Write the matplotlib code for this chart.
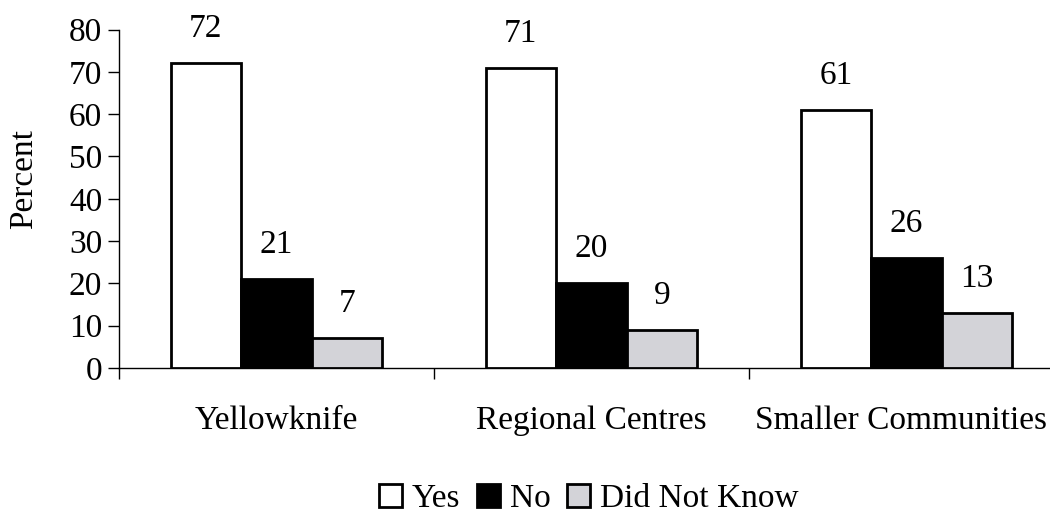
import numpy as np
import matplotlib.pyplot as plt
import matplotlib.transforms as mtransforms
from matplotlib.patches import Patch

plt.rcParams['font.family'] = ['Liberation Serif', 'DejaVu Serif']

regions = ['Yellowknife', 'Regional Centres', 'Smaller Communities']
answers = ['Yes', 'No', 'Did Not Know']
yes_pct = [72, 71, 61]
no_pct = [21, 20, 26]
dnk_pct = [7, 9, 13]
series = [yes_pct, no_pct, dnk_pct]
fills = ['white', 'black', '#d3d3d8']
fs = 24

fig = plt.figure(figsize=(10.5, 5.14), dpi=100)
ax = fig.add_axes([0.1133, 0.284, 0.9, 0.6586])

x = np.arange(len(regions))
w = 0.224
for i, (vals, col) in enumerate(zip(series, fills)):
    pos = x + (i - 1) * w
    ax.bar(pos, vals, w, color=col, edgecolor='black', linewidth=2, zorder=3)
    for px, v in zip(pos, vals):
        ax.text(px, v + 4.5, str(v), ha='center', va='bottom', fontsize=fs)

ax.set_xlim(-0.5, 2.5)
ax.set_ylim(0, 80)
ax.set_yticks(range(0, 81, 10))
ax.set_xticks(x)
ax.set_xticklabels(regions)
ax.set_xticks([-0.5, 0.5, 1.5, 2.5], minor=True)
ax.tick_params(axis='x', which='major', length=0, pad=27, labelsize=fs)
ax.tick_params(axis='x', which='minor', length=8, width=1, direction='out')
ax.tick_params(axis='y', length=8, width=1, direction='out', pad=4, labelsize=fs)
ax.set_ylabel('Percent', fontsize=fs)
ax.yaxis.set_label_coords(-0.085, 0.558)

# nudge the last category name so it stays inside the figure
last = ax.get_xticklabels()[-1]
last.set_transform(last.get_transform() +
                   mtransforms.ScaledTranslation(-4 / 72, 0, fig.dpi_scale_trans))

for s in ['top', 'right']:
    ax.spines[s].set_visible(False)
ax.spines['left'].set_bounds(0, 80)
ax.spines['left'].set_linewidth(1)
ax.spines['bottom'].set_linewidth(1)

handles = [Patch(facecolor=c, edgecolor='black', linewidth=2) for c in fills]
fig.legend(handles, answers, loc='center', bbox_to_anchor=(0.561, 0.03), ncol=3,
           frameon=False, fontsize=fs, handlelength=0.68, handleheight=0.68,
           handletextpad=0.3, columnspacing=0.5)

fig.savefig('out.png', dpi=100)
